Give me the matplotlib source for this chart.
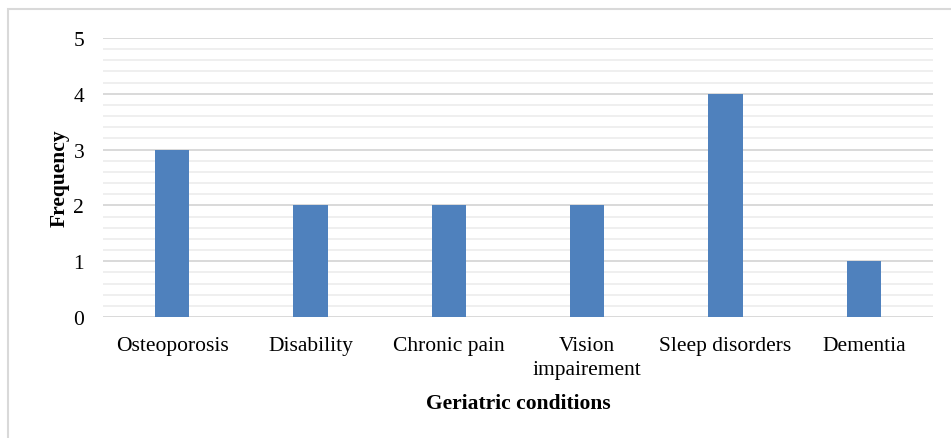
import matplotlib
matplotlib.use("Agg")
import matplotlib.pyplot as plt
from matplotlib.patches import Rectangle
import numpy as np

plt.rcParams["font.family"] = ["Liberation Serif", "DejaVu Serif"]

conditions = ["Osteoporosis", "Disability", "Chronic pain",
              "Vision\nimpairement", "Sleep disorders", "Dementia"]
frequency = [3, 2, 2, 2, 4, 1]

BAR_COLOR = "#4f81bd"
MAJOR_GRID = "#d9d9d9"
MINOR_GRID = "#eeeeee"

W, H = 951, 439
figure = plt.figure(figsize=(W / 100, H / 100), dpi=100)
ax = figure.add_axes([103 / W, 1 - 318 / H, (933 - 103) / W, (318 - 39) / H])

x = np.arange(len(conditions))
ax.bar(x, frequency, width=0.25, color=BAR_COLOR, zorder=3)
ax.set_xlim(-0.5, len(conditions) - 0.5)
ax.set_ylim(0, 5)
ax.set_yticks(range(0, 6))
ax.set_yticks(np.arange(0, 5.01, 0.2), minor=True)
ax.grid(axis="y", which="minor", color=MINOR_GRID, linewidth=1.3, zorder=0)
ax.grid(axis="y", which="major", color=MAJOR_GRID, linewidth=1.4, zorder=1)
for side in ["top", "right", "left", "bottom"]:
    ax.spines[side].set_visible(False)
ax.tick_params(axis="both", which="both", length=0, labelsize=15.5)
ax.tick_params(axis="y", pad=13.5)
ax.tick_params(axis="x", pad=14)
ax.set_xticks(x)
ax.set_xticklabels(conditions, linespacing=1.3)
ax.set_xlabel("Geriatric conditions", fontsize=15.5, fontweight="bold",
              labelpad=10.5)
ax.set_ylabel("Frequency", fontsize=15.5, fontweight="bold", labelpad=3)

# 外枠（右と下ははみ出す）
figure.patches.append(Rectangle((8 / W, -0.05), 1.0, 1 - 10 / H + 0.05,
                                transform=figure.transFigure, fill=False,
                                edgecolor=MAJOR_GRID, linewidth=1.5))

figure.savefig("out.png", dpi=100)
